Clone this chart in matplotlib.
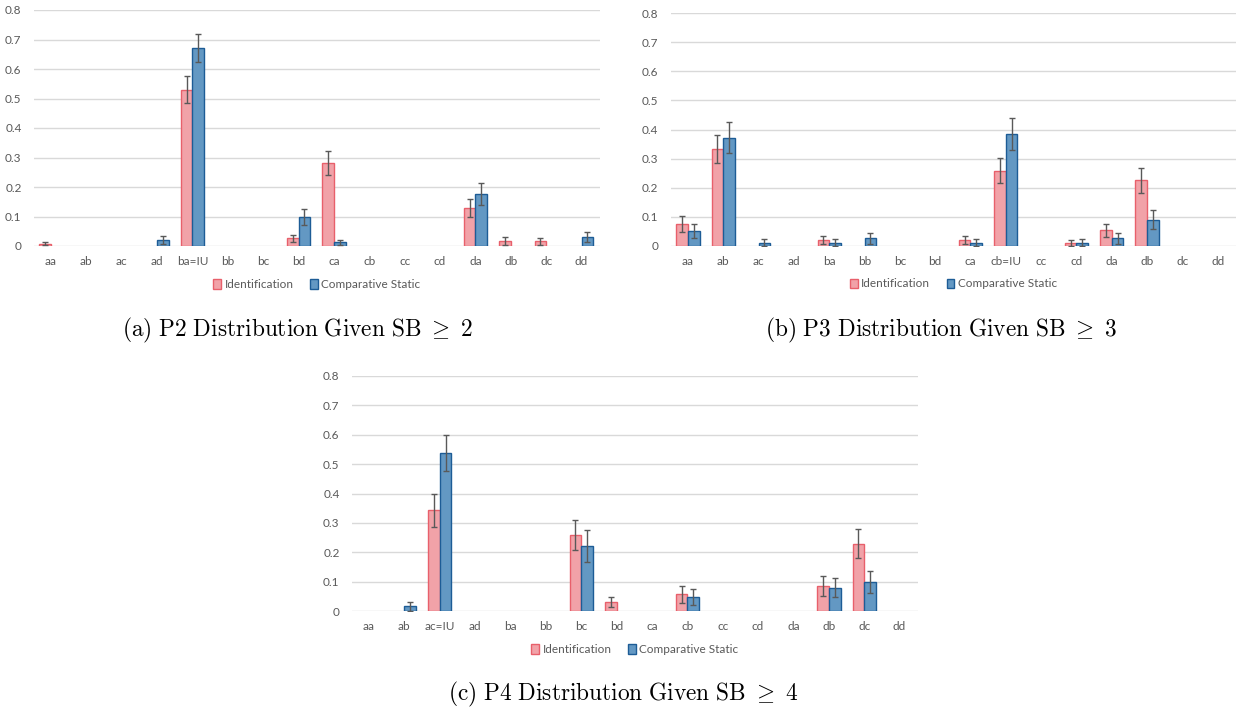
import matplotlib
matplotlib.use("Agg")
import matplotlib.pyplot as plt
import numpy as np
from matplotlib.patches import Patch

plt.rcParams['font.family'] = ['Lato', 'DejaVu Sans']
plt.rcParams['mathtext.fontset'] = 'cm'

# ---------------- data ----------------
cats_a = ["aa", "ab", "ac", "ad", "ba=IU", "bb", "bc", "bd", "ca", "cb", "cc", "cd", "da", "db", "dc", "dd"]
ident_a = [0.008, 0, 0, 0, 0.530, 0, 0, 0.026, 0.280, 0, 0, 0, 0.130, 0.016, 0.016, 0]
ident_a_err = [0.006, 0, 0, 0, 0.045, 0, 0, 0.011, 0.041, 0, 0, 0, 0.030, 0.013, 0.011, 0]
comp_a = [0, 0, 0, 0.020, 0.670, 0, 0, 0.098, 0.012, 0, 0, 0, 0.176, 0, 0, 0.030]
comp_a_err = [0, 0, 0, 0.013, 0.047, 0, 0, 0.028, 0.007, 0, 0, 0, 0.037, 0, 0, 0.017]

cats_b = ["aa", "ab", "ac", "ad", "ba", "bb", "bc", "bd", "ca", "cb=IU", "cc", "cd", "da", "db", "dc", "dd"]
ident_b = [0.075, 0.333, 0, 0, 0.022, 0, 0, 0, 0.022, 0.258, 0, 0.011, 0.054, 0.226, 0, 0]
ident_b_err = [0.027, 0.047, 0, 0, 0.014, 0, 0, 0, 0.014, 0.043, 0, 0.011, 0.022, 0.043, 0, 0]
comp_b = [0.051, 0.372, 0.012, 0, 0.012, 0.026, 0, 0, 0.012, 0.384, 0, 0.012, 0.026, 0.090, 0, 0]
comp_b_err = [0.025, 0.054, 0.013, 0, 0.013, 0.018, 0, 0, 0.013, 0.056, 0, 0.013, 0.018, 0.033, 0, 0]

cats_c = ["aa", "ab", "ac=IU", "ad", "ba", "bb", "bc", "bd", "ca", "cb", "cc", "cd", "da", "db", "dc", "dd"]
ident_c = [0, 0, 0.343, 0, 0, 0, 0.258, 0.029, 0, 0.057, 0, 0, 0, 0.086, 0.229, 0]
ident_c_err = [0, 0, 0.057, 0, 0, 0, 0.052, 0.017, 0, 0.029, 0, 0, 0, 0.034, 0.050, 0]
comp_c = [0, 0.016, 0.539, 0, 0, 0, 0.222, 0, 0, 0.047, 0, 0, 0, 0.080, 0.098, 0]
comp_c_err = [0, 0.016, 0.061, 0, 0, 0, 0.054, 0, 0, 0.027, 0, 0, 0, 0.034, 0.037, 0]

yticks = [0, 0.1, 0.2, 0.3, 0.4, 0.5, 0.6, 0.7, 0.8]
ytick_labels = ["0", "0.1", "0.2", "0.3", "0.4", "0.5", "0.6", "0.7", "0.8"]
series_names = ["Identification", "Comparative Static"]
captions = [r"$\mathrm{(a)\ P2\ Distribution\ Given\ SB}\ {\geq}\ 2$",
            r"$\mathrm{(b)\ P3\ Distribution\ Given\ SB}\ {\geq}\ 3$",
            r"$\mathrm{(c)\ P4\ Distribution\ Given\ SB}\ {\geq}\ 4$"]

# ---------------- style ----------------
PINK_FILL = "#F1A2A8"
PINK_EDGE = "#E8606B"
BLUE_FILL = "#6398C3"
BLUE_EDGE = "#1D5C96"
ERR_COL = "#595959"
GRID_COL = "#D9D9D9"
TXT_COL = "#595959"
FS = 8.5

W, H = 1236, 711
fig = plt.figure(figsize=(W / 100, H / 100), dpi=100)


def ax_rect(left, right, top, bottom):
    return [left / W, 1 - bottom / H, (right - left) / W, (bottom - top) / H]


def draw_panel(ax, cats, ident, ident_err, comp, comp_err):
    x = np.arange(len(cats))
    bw = 0.33
    for vals, errs, off, fc, ec in ((ident, ident_err, -bw / 2, PINK_FILL, PINK_EDGE),
                                    (comp, comp_err, bw / 2, BLUE_FILL, BLUE_EDGE)):
        vals = np.asarray(vals, float)
        errs = np.asarray(errs, float)
        lws = [1.0 if v > 0 else 0.0 for v in vals]
        ax.bar(x + off, vals, width=bw, color=fc, edgecolor=ec, linewidth=lws, zorder=3)
        m = vals > 0
        ax.errorbar(x[m] + off, vals[m], yerr=errs[m], fmt="none", ecolor=ERR_COL,
                    elinewidth=1.0, capsize=2.2, capthick=1.0, zorder=4)
    ax.set_xlim(-0.48, len(cats) - 0.48)
    ax.set_ylim(0, 0.8)
    ax.set_yticks(yticks)
    ax.set_yticklabels(ytick_labels)
    ax.set_xticks(x)
    ax.set_xticklabels(cats)
    ax.tick_params(axis="both", length=0, labelsize=FS, colors=TXT_COL)
    ax.tick_params(axis="x", pad=7)
    ax.tick_params(axis="y", pad=9)
    for s in ax.spines.values():
        s.set_visible(False)
    ax.grid(axis="y", color=GRID_COL, linewidth=1.0, zorder=0)
    ax.set_axisbelow(True)
    handles = [Patch(facecolor=PINK_FILL, edgecolor=PINK_EDGE, linewidth=1.0),
               Patch(facecolor=BLUE_FILL, edgecolor=BLUE_EDGE, linewidth=1.0)]
    leg = ax.legend(handles, series_names, loc="center", bbox_to_anchor=(0.5, -0.163),
                    ncol=2, frameon=False, fontsize=FS, handlelength=0.65, handleheight=0.9,
                    handletextpad=0.3, columnspacing=1.4)
    for t in leg.get_texts():
        t.set_color(TXT_COL)


ax_a = fig.add_axes(ax_rect(34, 600, 10, 246))
draw_panel(ax_a, cats_a, ident_a, ident_a_err, comp_a, comp_a_err)

ax_b = fig.add_axes(ax_rect(671, 1236, 13, 246))
draw_panel(ax_b, cats_b, ident_b, ident_b_err, comp_b, comp_b_err)

ax_c = fig.add_axes(ax_rect(352, 918, 376, 611))
draw_panel(ax_c, cats_c, ident_c, ident_c_err, comp_c, comp_c_err)

cap_kw = dict(ha="center", va="center", fontsize=16.8, color="black")
fig.text(298 / W, 1 - 330 / H, captions[0], **cap_kw)
fig.text(941 / W, 1 - 330 / H, captions[1], **cap_kw)
fig.text(623 / W, 1 - 694 / H, captions[2], **cap_kw)

fig.savefig("out.png", dpi=100, facecolor="white")
